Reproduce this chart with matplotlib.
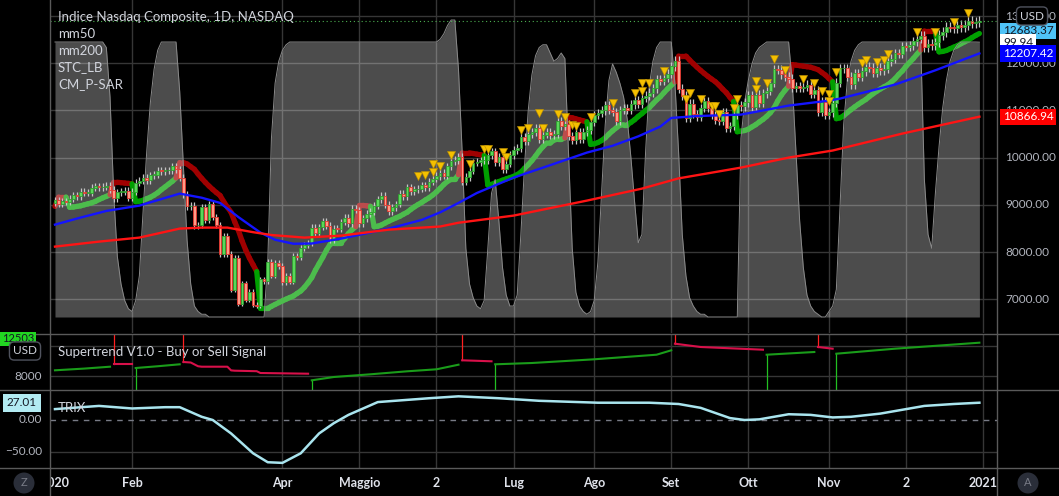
"""Nasdaq Composite daily chart 2020 with mm50/mm200, STC, P-SAR, Supertrend and TRIX panels."""
import matplotlib
matplotlib.use("Agg")
import matplotlib.pyplot as plt
import matplotlib.transforms as mtransforms
from matplotlib.collections import LineCollection
import numpy as np

plt.rcParams['font.family'] = ['Lato', 'DejaVu Sans']

W, H = 1059, 496

# daily closes, one row per month (Jan .. Dec 2020)
CLOSE = [
    9092, 9020, 9071, 9068, 9129, 9203, 9178, 9273, 9251, 9258, 9357, 9388, 9370, 9383, 9402, 9314, 9139, 9269, 9275, 9298, 9151,
    9273, 9467, 9508, 9572, 9520, 9628, 9638, 9725, 9711, 9731, 9732, 9817, 9750, 9577, 9221, 8966, 8980, 8566, 8567,
    8952, 8684, 9018, 8738, 8576, 7950, 8344, 7952, 7201, 7875, 6905, 7335, 6990, 7151, 6880, 6861, 7418, 7384, 7798, 7502, 7774, 7700,
    7360, 7487, 7373, 7913, 7887, 8091, 8153, 8193, 8516, 8393, 8533, 8650, 8561, 8263, 8495, 8494, 8634, 8730, 8607, 8915, 8890,
    8605, 8710, 8810, 8854, 8980, 9121, 9192, 9002, 8863, 8943, 9015, 9235, 9185, 9375, 9284, 9325, 9340, 9412, 9369, 9490,
    9552, 9608, 9683, 9616, 9814, 9924, 9953, 10020, 9493, 9589, 9726, 9895, 9911, 9943, 9946, 10056, 10131, 9909, 10017, 9757, 9874, 10058,
    10155, 10208, 10433, 10344, 10492, 10548, 10617, 10391, 10489, 10550, 10474, 10503, 10767, 10680, 10706, 10462, 10363, 10536, 10402, 10543, 10587, 10745,
    10903, 10941, 10998, 11108, 11011, 10968, 10782, 11012, 11042, 11019, 11129, 11210, 11146, 11264, 11312, 11379, 11466, 11665, 11625, 11696, 11775,
    11939, 12056, 11458, 11313, 10848, 11142, 10920, 10854, 11057, 11190, 11050, 10910, 10794, 10778, 10964, 10633, 10672, 10914, 11118, 11085, 11168,
    11326, 11076, 11332, 11155, 11364, 11420, 11580, 11876, 11863, 11768, 11714, 11672, 11479, 11517, 11485, 11506, 11548, 11358, 11431, 10971, 11186, 10912,
    10958, 11161, 11590, 11891, 11895, 11714, 11554, 11787, 11710, 11829, 11925, 11899, 11802, 11905, 11855, 11881, 12037, 12095, 12206, 12199,
    12355, 12349, 12377, 12464, 12520, 12583, 12339, 12406, 12378, 12440, 12596, 12658, 12765, 12756, 12743, 12808, 12772, 12805, 12900, 12843, 12870, 12888,
]
FIRST_OPEN = 9039
WICK = 0.008  # wick length as a fraction of price

# STC_LB oscillator (0-100), one value per day
STC = (
    [100] * 14 + [98, 80, 45, 22, 12, 6, 3]
    + [2, 6, 15, 38, 60, 78, 90, 97, 100, 100, 100, 100, 100, 82, 55, 28, 12, 4, 2]
    + [1, 1] + [0] * 16 + [20, 65, 85, 93]
    + [97, 99] + [100] * 19
    + [100] * 20
    + [100, 100, 101, 103, 106, 108, 108, 90, 60, 25, 12, 7, 4, 3, 6, 25, 45, 50, 35, 18, 8, 4]
    + [4, 8, 30, 55, 75, 88, 95, 98, 99, 99, 96, 93, 94, 96, 94, 60, 25, 9, 4, 2, 1, 2]
    + [6, 20, 45, 70, 86, 92, 89, 85, 80, 72, 58, 42, 27, 30, 60, 84, 93, 98, 100, 100, 100]
    + [100, 85, 60, 30, 15, 7, 4, 2, 1, 1] + [0] * 9 + [65, 78]
    + [86, 92, 96, 98, 99] + [100] * 7 + [85, 60, 35, 18, 8, 4, 2, 1, 0, 0]
    + [2, 4, 10, 40, 70, 86, 93, 97, 99] + [100] * 11
    + [100] * 6 + [50, 30, 25, 45, 62, 76, 86, 93, 97, 99] + [100] * 5 + [99.94]
)

# moving averages, sampled on trading-day index
MA50_DAYS = [0, 7, 14, 23, 34, 40, 45, 50, 56, 60, 65, 70, 78, 91, 100, 105, 110, 115, 125, 135,
             145, 152, 159, 165, 168, 175, 187, 200, 211, 214, 229, 240, 252]
MA50_VALS = [8580, 8730, 8870, 8983, 9237, 9150, 9040, 8740, 8411, 8260, 8175, 8180, 8284, 8496, 8680, 8840, 9040, 9250, 9576, 9840,
             10106, 10250, 10450, 10657, 10840, 10880, 10911, 11102, 11208, 11250, 11547, 11850, 12207]
MA200_DAYS = [0, 12, 23, 34, 40, 47, 54, 59, 68, 78, 91, 105, 110, 125, 145, 160, 170, 187, 200, 212, 231, 252]
MA200_VALS = [8114, 8220, 8305, 8496, 8517, 8517, 8420, 8360, 8305, 8347, 8474, 8540, 8620, 8771, 9089, 9343, 9560, 9788, 10000, 10150, 10509, 10867]

# yellow signal triangles
TRI_DAYS = [99, 101, 103, 103, 105, 108, 113, 117, 118, 122, 123, 127, 129, 132, 133, 137, 139, 141, 142, 146,
            152, 158, 160, 160, 162, 166, 172, 173, 176, 179, 180, 181, 185, 186, 191, 191, 194, 196, 199, 204,
            207, 209, 211, 211, 213, 220, 221, 224, 226, 227, 235, 240, 245, 249]
TRI_PRICE = [9610, 9631, 9864, 9694, 9822, 10054, 9864, 10182, 10182, 10118, 10012, 10584, 10627, 10945, 10627, 10923, 10860, 10690, 10669, 10860,
             11157, 11368, 11580, 11411, 11580, 11835, 11241, 11368, 11241, 11093, 11093, 10923, 11050, 11241, 11623, 11453, 11580, 12089, 11856, 11665,
             11580, 11411, 11347, 11199, 11813, 12004, 12068, 12025, 12068, 12195, 12661, 12661, 12873, 13064]

# Supertrend: (day, value) runs, alternating trend
ST_RUNS = [
    ("up", [0, 8, 15], [8760, 8990, 9240]),
    ("dn", [16, 21], [9560, 9560]),
    ("up", [22, 28, 34], [9067, 9300, 9560]),
    ("dn", [35, 37, 39, 40, 47, 48, 49, 55, 56, 69], [9867, 9800, 9300, 9240, 9240, 8750, 8707, 8640, 8400, 8307]),
    ("up", [70, 76, 86, 96, 104, 110], [7427, 7867, 8227, 8627, 8893, 9507]),
    ("dn", [111, 119], [10093, 9960]),
    ("up", [120, 130, 147, 164, 168], [9560, 9733, 10227, 10840, 11427]),
    ("dn", [169, 176, 193], [12307, 11867, 11507]),
    ("up", [194, 207], [10840, 11200]),
    ("dn", [208, 212], [11867, 11640]),
    ("up", [213, 229, 252], [10973, 11640, 12440]),
]

# TRIX, sampled on trading-day index
TRIX_DAYS = [0, 12, 21, 30, 34, 40, 43, 48, 54, 58, 62, 67, 72, 76, 80, 88, 102, 110, 121, 132,
             148, 162, 170, 176, 184, 188, 192, 200, 206, 212, 217, 225, 231, 237, 245, 252]
TRIX_VALS = [17, 22, 18, 20, 20, 5, 0, -21, -52, -66, -67, -52, -21, -5, 8, 28, 34, 37, 34, 30,
             27, 27, 25, 19, 3, 0, 1, 9, 8, 4, 5, 10, 16, 22, 25, 27]

MONTH_DAYS = [0, 21, 62, 83, 104, 125, 147, 168, 189, 211, 232, 253]
MONTH_LABELS = ["2020", "Feb", "Apr", "Maggio", "2", "Lug", "Ago", "Set", "Ott", "Nov", "2", "2021"]

BG = "#000000"
GRID = "#363636"
SEP = "#5a5a5a"
TXT = "#d1d4dc"
AX_TXT = "#b2b5be"


def psar(high, low, start=0.02, inc=0.02, mx=0.2):
    n = len(high)
    sar = np.zeros(n)
    bull = np.zeros(n, bool)
    is_up, af, ep = True, start, high[0]
    sar[0], bull[0] = low[0], True
    for i in range(1, n):
        s = sar[i - 1] + af * (ep - sar[i - 1])
        if is_up:
            s = min(s, low[i - 1], low[max(i - 2, 0)])
            if low[i] < s:
                is_up, s, ep, af = False, ep, low[i], start
            elif high[i] > ep:
                ep, af = high[i], min(af + inc, mx)
        else:
            s = max(s, high[i - 1], high[max(i - 2, 0)])
            if high[i] > s:
                is_up, s, ep, af = True, ep, high[i], start
            elif low[i] < ep:
                ep, af = low[i], min(af + inc, mx)
        sar[i], bull[i] = s, is_up
    return sar, bull


def px_axes(fig, x, y, w, h):
    ax = fig.add_axes([x / W, 1 - (y + h) / H, w / W, h / H])
    ax.set_facecolor(BG)
    for s in ax.spines.values():
        s.set_visible(False)
    ax.set_xticks([])
    ax.set_yticks([])
    return ax


def fy(y):
    return 1 - y / H


def main():
    fig = plt.figure(figsize=(W / 100, H / 100), dpi=100, facecolor=BG)

    xlim = (-1.36, 256.8)
    days = np.arange(len(CLOSE))
    close = np.array(CLOSE, float)
    opn = np.r_[FIRST_OPEN, close[:-1]]
    top = np.maximum(opn, close)
    bot = np.minimum(opn, close)
    high = top * (1 + WICK)
    low = bot * (1 - WICK)
    up = close >= opn

    # ---------------- main panel ----------------
    ax = px_axes(fig, 50, 0, 947, 333)
    ax.set_xlim(*xlim)
    ax.set_ylim(6284, 13339)
    for p in range(7000, 14000, 1000):
        ax.axhline(p, color=GRID, lw=1, zorder=0.5)
    for d in MONTH_DAYS[1:]:
        ax.axvline(d, color=GRID, lw=1, zorder=0.5)

    # parabolic SAR (drawn under the STC veil)
    sar, bull = psar(high, low)
    segs = [[(i - 1, sar[i - 1]), (i, sar[i])] for i in range(1, len(sar))]
    cols = ["#00a000" if b else "#a00000" for b in bull[1:]]
    ax.add_collection(LineCollection(segs, colors=cols, linewidths=3.8, capstyle="round", zorder=1.5))

    # STC as a translucent area, mapped onto the price scale
    stc = np.array(STC, float)
    p0, k = 6623, 58.26
    ax.fill_between(days, p0, p0 + k * stc, color="white", alpha=0.30, lw=0, zorder=2)
    ax.plot(days, p0 + k * stc, color="#8a8a8a", lw=0.7, zorder=2.1)

    # candles
    ax.vlines(days, low, high, color="#c4c4c4", lw=0.9, zorder=3)
    body = np.maximum(top - bot, 16)
    ax.bar(days[up], body[up], bottom=bot[up], width=0.72, color="#5ad85a",
           edgecolor="#2f9e2f", lw=0.6, zorder=3.5)
    ax.bar(days[~up], body[~up], bottom=bot[~up], width=0.72, color="#ff9b86",
           edgecolor="#e6362e", lw=0.6, zorder=3.5)

    ax.plot(MA50_DAYS, MA50_VALS, color="#1414ff", lw=1.7, zorder=4)
    ax.plot(MA200_DAYS, MA200_VALS, color="#ff1414", lw=1.7, zorder=4)
    ax.scatter(TRI_DAYS, TRI_PRICE, marker="v", s=34, color="#f5c000",
               edgecolors="#b88c00", linewidths=0.4, zorder=6)
    ax.axhline(close[-1], color="#4caf50", lw=0.8, ls=(0, (1, 2.5)), zorder=5)

    # right price scale
    yt = mtransforms.blended_transform_factory(fig.transFigure, ax.transData)
    for p in range(7000, 14000, 1000):
        fig.text(1005 / W, p, f"{p:.2f}", transform=yt, va="center", ha="left",
                 fontsize=8.5, color=AX_TXT)
    boxes = [
        (12683.37, "12683.37", "#4fc3f7", "#131722"),
        (p0 + k * 99.94, "99.94", "#ffffff", "#131722"),
        (12207.42, "12207.42", "#0000ff", "#ffffff"),
        (10866.94, "10866.94", "#ff0000", "#ffffff"),
    ]
    for val, lab, bg, fg in boxes:
        fig.text(1003 / W, val, lab, transform=yt, va="center", ha="left", fontsize=8.5,
                 color=fg, zorder=5,
                 bbox=dict(boxstyle="square,pad=0.22", fc=bg, ec="none"))
    fig.text(1032 / W, fy(16), "USD", va="center", ha="center", fontsize=8.5, color=TXT,
             zorder=6, bbox=dict(boxstyle="round,pad=0.3,rounding_size=0.4", fc=BG, ec="#50535e", lw=1))

    fig.text(58 / W, fy(17), "Indice Nasdaq Composite, 1D, NASDAQ", va="center", ha="left",
             fontsize=9.5, color=TXT)
    for y, lab in zip([34, 51, 67, 84], ["mm50", "mm200", "STC_LB", "CM_P-SAR"]):
        fig.text(58 / W, fy(y), lab, va="center", ha="left", fontsize=9.5, color=TXT)

    # ---------------- Supertrend panel ----------------
    ax2 = px_axes(fig, 50, 334, 947, 56)
    ax2.set_xlim(*xlim)
    ax2.set_ylim(6134, 13600)
    for p in (8000, 12000):
        ax2.axhline(p, color=GRID, lw=1, zorder=0.5)
    for d in MONTH_DAYS[1:]:
        ax2.axvline(d, color=GRID, lw=1, zorder=0.5)
    for trend, ds, vs in ST_RUNS:
        col = "#1a9c1a" if trend == "up" else "#d8104a"
        ax2.plot(ds, vs, color=col, lw=1.5, zorder=3)
        if ds[0] > 0:
            if trend == "up":
                ax2.plot([ds[0], ds[0]], [vs[0], 6134], color="#22c022", lw=0.9, zorder=2)
            else:
                ax2.plot([ds[0], ds[0]], [vs[0], 13600], color="#ff2020", lw=0.9, zorder=2)
    fig.text(58 / W, fy(352), "Supertrend V1.0 - Buy or Sell Signal", va="center", ha="left",
             fontsize=9.5, color=TXT)
    t2 = mtransforms.blended_transform_factory(fig.transFigure, ax2.transData)
    fig.text(42 / W, 8000, "8000", transform=t2, va="center", ha="right", fontsize=8.5, color=AX_TXT)
    fig.text(18 / W, fy(339), "12503", va="center", ha="center", fontsize=8, color="#131722",
             bbox=dict(boxstyle="square,pad=0.15", fc="#22d622", ec="none"))
    fig.text(25 / W, fy(351), "USD", va="center", ha="center", fontsize=8.5, color=TXT, zorder=6,
             bbox=dict(boxstyle="round,pad=0.3,rounding_size=0.4", fc=BG, ec="#50535e", lw=1))

    # ---------------- TRIX panel ----------------
    ax3 = px_axes(fig, 50, 391, 947, 77)
    ax3.set_xlim(*xlim)
    ax3.set_ylim(-75, 45.3)
    ax3.axhline(-50, color=GRID, lw=1, zorder=0.5)
    ax3.axhline(0, color="#787b86", lw=1, ls=(0, (4, 4)), zorder=0.6)
    for d in MONTH_DAYS[1:]:
        ax3.axvline(d, color=GRID, lw=1, zorder=0.5)
    ax3.plot(TRIX_DAYS, TRIX_VALS, color="#a9e4ee", lw=1.8, zorder=3)
    fig.text(58 / W, fy(408), "TRIX", va="center", ha="left", fontsize=9.5, color=TXT, zorder=4)
    t3 = mtransforms.blended_transform_factory(fig.transFigure, ax3.transData)
    fig.text(42 / W, 0, "0.00", transform=t3, va="center", ha="right", fontsize=8.5, color=AX_TXT)
    fig.text(42 / W, -50, "\u221250.00", transform=t3, va="center", ha="right", fontsize=8.5, color=AX_TXT)
    fig.text(22 / W, TRIX_VALS[-1], f"{27.01:.2f}", transform=t3, va="center", ha="center",
             fontsize=8.5, color="#131722",
             bbox=dict(boxstyle="square,pad=0.3", fc="#b2ebf2", ec="none"))

    # ---------------- time axis ----------------
    ax4 = px_axes(fig, 50, 468, 947, 28)
    ax4.set_xlim(*xlim)
    ax4.set_ylim(0, 1)
    for d, lab in zip(MONTH_DAYS, MONTH_LABELS):
        ax4.text(d, 0.46, lab, ha="center", va="center", fontsize=9, color="#e0e3eb",
                 fontweight="bold", clip_on=True)
    for x, lab in ((24, "Z"), (1028, "A")):
        fig.text(x / W, fy(483), lab, ha="center", va="center", fontsize=8, color="#787b86",
                 bbox=dict(boxstyle="circle,pad=0.45", fc="#2a2e39", ec="none"))

    # panel separators
    for y in (334, 390, 468):
        fig.add_artist(plt.Line2D([0, 1], [fy(y), fy(y)], color=SEP, lw=1))
    for x in (50, 997):
        fig.add_artist(plt.Line2D([x / W, x / W], [0, 1], color=SEP, lw=1))

    fig.savefig("out.png", dpi=100, facecolor=BG)


if __name__ == "__main__":
    main()
